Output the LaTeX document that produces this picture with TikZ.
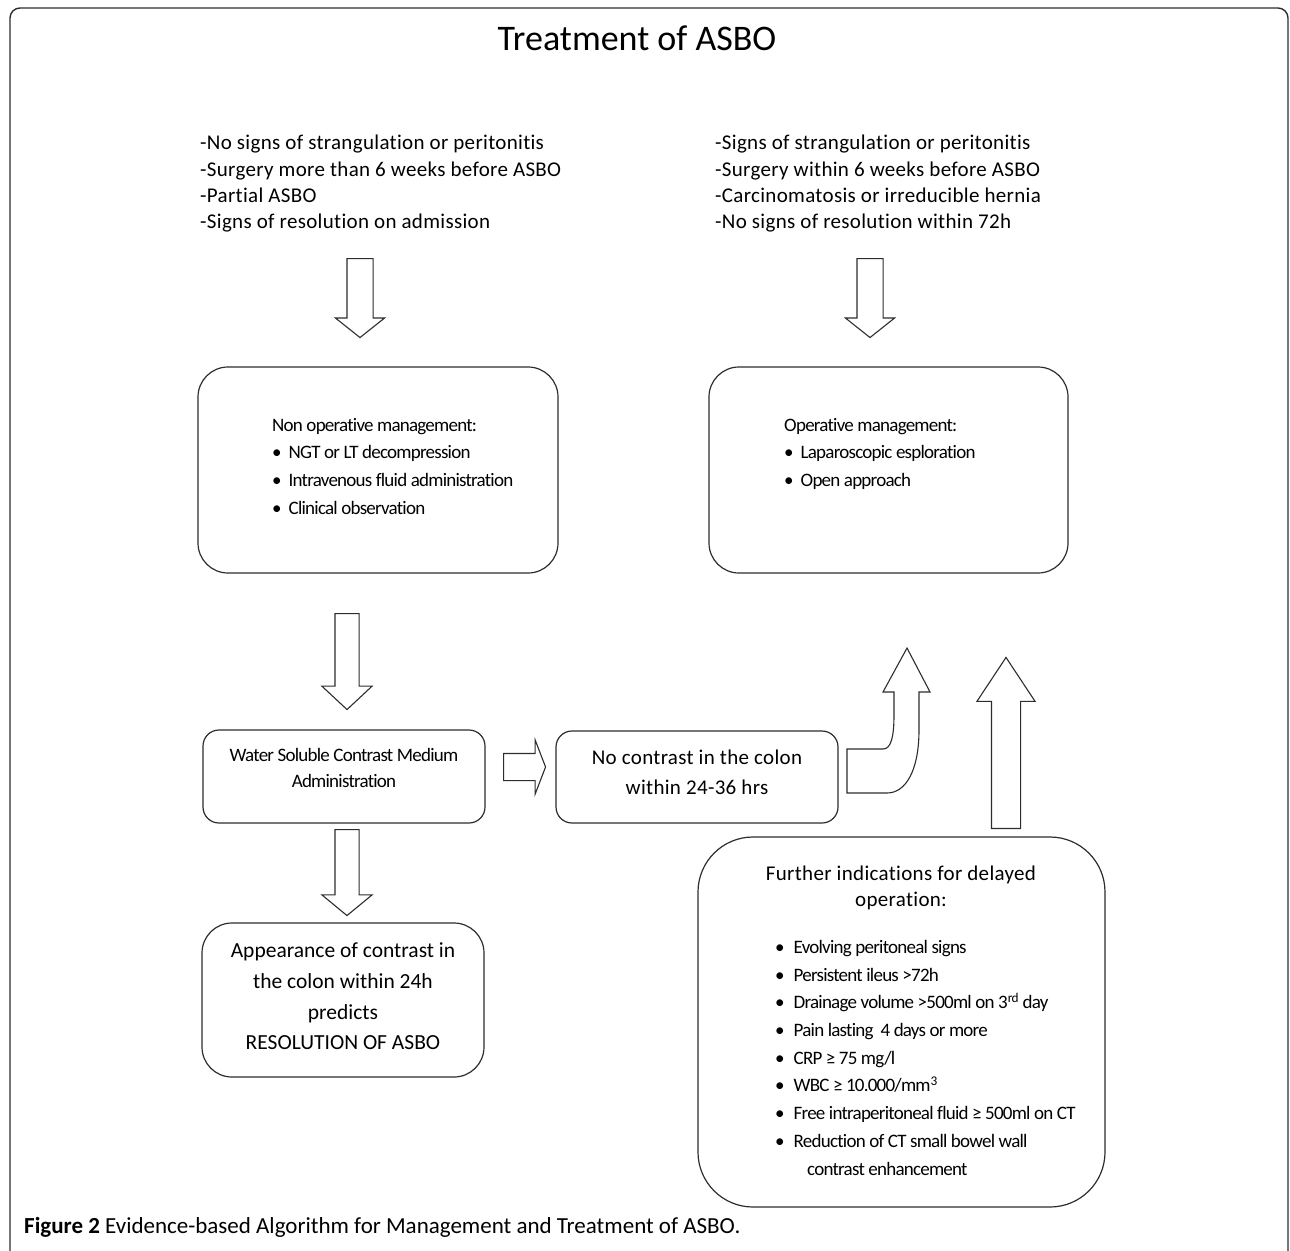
\documentclass[tikz,border=0pt]{standalone}
\usepackage{fontspec}
\setmainfont{Carlito}[Ligatures=NoCommon]
\newfontfamily\tightfont{Carlito}[LetterSpace=-4, Ligatures=NoCommon]
\newfontfamily\widefont{Carlito}[LetterSpace=1.5, Ligatures=NoCommon]
\usetikzlibrary{shapes.arrows, positioning, calc}
\definecolor{inkgray}{RGB}{45, 45, 45}

\begin{document}
\begin{tikzpicture}[x=1pt, y=-1pt,
  box/.style={draw=inkgray, line width=1.2pt, inner sep=0pt, align=center},
  blockarrow/.style={single arrow, draw=inkgray, line width=1.1pt, fill=white, single arrow head indent=0pt},
  cond/.style={anchor=north west, inner sep=0pt, align=left, font=\widefont\fontsize{21}{26.3}\selectfont},
  bullets/.style={anchor=north west, inner sep=0pt, align=left, font=\tightfont\fontsize{19}{27.7}\selectfont}
]
  \useasboundingbox (0,0) rectangle (1290,1250);
  \draw[inkgray, line width=1.4pt, rounded corners=10pt] (10,1260) -- (10,8) -- (1288,8) -- (1288,1260);

  \node[font=\fontsize{36}{40}\selectfont] (title) at (637,38) {Treatment of ASBO};

  % indications
  \node[cond] (condL) at (200,135) {-No signs of strangulation or peritonitis\\
    -Surgery more than 6 weeks before ASBO\\
    -Partial ASBO\\
    -Signs of resolution on admission};
  \node[cond] (condR) at (715,135) {-Signs of strangulation or peritonitis\\
    -Surgery within 6 weeks before ASBO\\
    -Carcinomatosis or irreducible hernia\\
    -No signs of resolution within 72h};

  \node[blockarrow, shape border rotate=270, inner sep=12.5pt, minimum height=79pt, minimum width=48pt,
    single arrow head extend=11.5pt, single arrow tip angle=103, anchor=tail] (downL) at (360,258) {};
  \node[blockarrow, shape border rotate=270, inner sep=12.5pt, minimum height=79pt, minimum width=48pt,
    single arrow head extend=11.5pt, single arrow tip angle=103, anchor=tail] (downR) at (870,258) {};

  % management boxes
  \node[box, rounded corners=30pt, minimum width=360pt, minimum height=206pt] (nonop) at (378,470) {};
  \node[bullets] (nonoplist) at (272,418) {Non operative management:\\
    \textbullet\hspace{7pt}NGT or LT decompression\\
    \textbullet\hspace{7pt}Intravenous fluid administration\\
    \textbullet\hspace{7pt}Clinical observation};
  \node[box, rounded corners=30pt, minimum width=359pt, minimum height=206pt] (op) at (888.5,470) {};
  \node[bullets] (oplist) at (784,418) {Operative management:\\
    \textbullet\hspace{7pt}Laparoscopic esploration\\
    \textbullet\hspace{7pt}Open approach};

  \node[blockarrow, shape border rotate=270, inner sep=11.5pt, minimum height=96pt, minimum width=49pt,
    single arrow head extend=13pt, single arrow tip angle=94, anchor=tail] (downWater) at (347,613) {};

  % contrast study
  \node[box, rounded corners=16pt, minimum width=282pt, minimum height=93pt] (water) at (344,776.5) {};
  \node[font=\tightfont\fontsize{19}{26}\selectfont, align=center] (watertext) at (344,768) {Water Soluble Contrast Medium\\Administration};
  \node[blockarrow, inner sep=13pt, minimum height=42pt, minimum width=53pt,
    single arrow head extend=13.5pt, single arrow tip angle=138, anchor=tail] (toNocon) at (503,767) {};
  \node[box, rounded corners=16pt, minimum width=282pt, minimum height=92pt] (nocon) at (697,777) {};
  \node[font=\widefont\fontsize{21}{30}\selectfont, align=center] (nocontext) at (697,772.5) {No contrast in the colon\\within 24-36 hrs};

  \node[blockarrow, shape border rotate=270, inner sep=11.5pt, minimum height=86pt, minimum width=49pt,
    single arrow head extend=13pt, single arrow tip angle=101, anchor=tail] (downAppear) at (347,829) {};
  \node[box, rounded corners=30pt, minimum width=282pt, minimum height=154pt] (appear) at (343,1000) {};
  \node[font=\fontsize{21.5}{30.7}\selectfont, align=center] (appeartext) at (343,996.5) {Appearance of contrast in\\the colon within 24h\\predicts\\RESOLUTION OF ASBO};

  % bent arrow from no contrast up to operative management
  \draw[inkgray, line width=1.1pt, fill=white] (847,749) -- (883,749)
    .. controls (891,749) and (894,737) .. (894,715) -- (894,692) -- (883,692) -- (907,648)
    -- (930,692) -- (919,692) -- (919,730) .. controls (919,770) and (906,793) .. (887,793)
    -- (847,793) -- cycle;

  % delayed operation
  \node[box, rounded corners=55pt, minimum width=407pt, minimum height=370pt] (further) at (901.5,1022) {};
  \node[font=\widefont\fontsize{21}{26}\selectfont, align=center] (furtherhead) at (901,888) {Further indications for delayed\\operation:};
  \node[bullets] (furtherlist) at (775,940) {\textbullet\hspace{9pt}Evolving peritoneal signs\\
    \textbullet\hspace{9pt}Persistent ileus >72h\\
    \textbullet\hspace{9pt}Drainage volume >500ml on 3\textsuperscript{rd} day\\
    \textbullet\hspace{9pt}Pain lasting\ \ 4 days or more\\
    \textbullet\hspace{9pt}CRP ≥\ 75 mg/l\\
    \textbullet\hspace{9pt}WBC ≥ 10.000/mm\textsuperscript{3}\\
    \textbullet\hspace{9pt}Free intraperitoneal fluid ≥ 500ml on CT\\
    \textbullet\hspace{9pt}Reduction of CT small bowel wall\\
    \hspace*{32pt}contrast enhancement};
  \node[blockarrow, shape border rotate=90, inner sep=14pt, minimum height=171pt, minimum width=57pt,
    single arrow head extend=14.5pt, single arrow tip angle=67, anchor=tail] (upOp) at (1006,829) {};

  \node[anchor=base west, inner sep=0pt, font=\fontsize{23}{26}\selectfont] (caption) at (24,1233)
    {\textbf{Figure 2} Evidence-based Algorithm for Management and Treatment of ASBO.};
\end{tikzpicture}
\end{document}
